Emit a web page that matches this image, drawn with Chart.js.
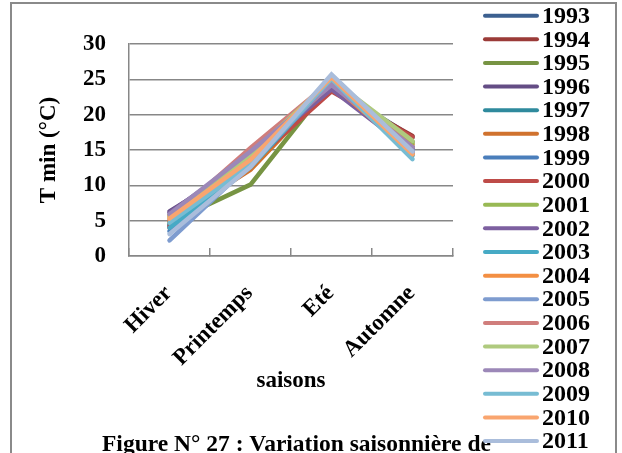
<!DOCTYPE html>
<html>
<head>
<meta charset="utf-8">
<script src="https://cdn.jsdelivr.net/npm/chart.js@4/dist/chart.umd.min.js"></script>
<style>
  html, body { margin: 0; padding: 0; background: #fff; }
  #wrap { position: relative; width: 622px; height: 453px; }
</style>
</head>
<body>
<div id="wrap"><canvas id="c" width="622" height="453"></canvas></div>
<script>
// Seasons on the x axis, years as series
const seasons = ['Hiver', 'Printemps', 'Eté', 'Automne'];
const years = ['1993', '1994', '1995', '1996', '1997', '1998', '1999', '2000', '2001', '2002',
               '2003', '2004', '2005', '2006', '2007', '2008', '2009', '2010', '2011'];
const yTicks = [0, 5, 10, 15, 20, 25, 30];

// Seasonal minimum temperature (°C) per year: Hiver, Printemps, Eté, Automne
const t1993 = [4.5, 12.8, 24.0, 16.8];
const t1994 = [4.0, 13.2, 23.4, 17.0];
const t1995 = [4.7, 10.1, 24.6, 16.2];
const t1996 = [6.3, 13.4, 23.7, 15.2];
const t1997 = [4.3, 12.4, 24.5, 15.5];
const t1998 = [4.9, 12.2, 24.2, 15.8];
const t1999 = [3.5, 12.9, 24.7, 14.5];
const t2000 = [4.2, 13.0, 23.3, 16.8];
const t2001 = [5.8, 13.0, 24.9, 16.0];
const t2002 = [6.1, 14.2, 23.6, 14.8];
const t2003 = [4.0, 12.6, 24.9, 14.2];
const t2004 = [5.6, 13.8, 24.4, 14.4];
const t2005 = [2.2, 13.0, 24.7, 15.0];
const t2006 = [5.2, 15.3, 24.8, 15.4];
const t2007 = [5.4, 14.4, 25.0, 16.3];
const t2008 = [5.9, 14.8, 24.2, 15.4];
const t2009 = [4.7, 12.9, 25.1, 13.7];
const t2010 = [5.3, 13.6, 25.3, 14.4];
const t2011 = [3.1, 12.6, 25.7, 14.8];

const seriesValues = [t1993, t1994, t1995, t1996, t1997, t1998, t1999, t2000, t2001, t2002,
                      t2003, t2004, t2005, t2006, t2007, t2008, t2009, t2010, t2011];

const palette = ['#3C6090', '#9B3B38', '#779443', '#644D85', '#2F8A9D', '#D0722E', '#4A7EBB',
                 '#BE4B48', '#98B954', '#7D60A0', '#46AAC5', '#F38F43', '#7E9CCF', '#D07E7C',
                 '#AFCA7E', '#9C88B8', '#77BCD3', '#F9A56F', '#AABDDB'];

const FONT = "'Liberation Serif', 'Times New Roman', serif";
const GRID = '#878787';

// Outer frame around the figure
const framePlugin = {
  id: 'frame',
  beforeDraw(chart) {
    const ctx = chart.ctx;
    ctx.save();
    ctx.fillStyle = '#ffffff';
    ctx.fillRect(0, 0, chart.width, chart.height);
    ctx.strokeStyle = '#8a8a8a';
    ctx.lineWidth = 2;
    ctx.strokeRect(11, 3, 605, 470);
    ctx.restore();
  }
};

// Line-sample legend on the right and the figure caption underneath
const legendPlugin = {
  id: 'lineLegend',
  afterDraw(chart) {
    const ctx = chart.ctx;
    ctx.save();
    // caption
    ctx.fillStyle = '#000';
    ctx.font = 'bold 23.5px ' + FONT;
    ctx.textAlign = 'left';
    ctx.textBaseline = 'alphabetic';
    ctx.fillText('Figure N° 27 : Variation saisonnière de', 102, 451);

    // legend rows
    const x0 = 485, x1 = 537, tx = 542, top = 15.7, step = 23.63;
    ctx.font = 'bold 24px ' + FONT;
    ctx.textBaseline = 'middle';
    chart.data.datasets.forEach((ds, i) => {
      const y = top + i * step;
      ctx.strokeStyle = ds.borderColor;
      ctx.lineWidth = 4;
      ctx.lineCap = 'round';
      ctx.beginPath();
      ctx.moveTo(x0, y);
      ctx.lineTo(x1, y);
      ctx.stroke();
      ctx.fillStyle = '#000';
      ctx.fillText(ds.label, tx, y + 1);
    });
    ctx.restore();
  }
};

const datasets = years.map((yr, i) => ({
  label: yr,
  data: seriesValues[i],
  borderColor: palette[i],
  backgroundColor: palette[i],
  order: years.length - 1 - i
}));

new Chart(document.getElementById('c'), {
  type: 'line',
  data: { labels: seasons, datasets },
  options: {
    responsive: false,
    animation: false,
    devicePixelRatio: 1,
    layout: { padding: { left: 0, right: 169, top: 44, bottom: 0 } },
    plugins: { legend: { display: false }, tooltip: { enabled: false } },
    elements: {
      line: { tension: 0, borderWidth: 4.5, borderCapStyle: 'round', borderJoinStyle: 'miter', fill: false },
      point: { radius: 0, hoverRadius: 0 }
    },
    scales: {
      x: {
        offset: true,
        grid: { offset: true, drawOnChartArea: false, drawTicks: true, tickLength: -8, color: GRID, lineWidth: 1.5 },
        border: { color: GRID, width: 1.5 },
        ticks: {
          autoSkip: false, minRotation: 45, maxRotation: 45, labelOffset: -1, padding: 32,
          color: '#000', font: { family: FONT, size: 23, weight: 'bold' }
        },
        title: {
          display: true, text: 'saisons', color: '#000',
          font: { family: FONT, size: 23, weight: 'bold' }, padding: { top: 0, bottom: 58 }
        },
        afterFit(scale) { scale.height = 197; }
      },
      y: {
        min: yTicks[0],
        max: yTicks[yTicks.length - 1],
        afterBuildTicks(scale) { scale.ticks = yTicks.map(v => ({ value: v })); },
        grid: { color: GRID, lineWidth: 1.5, drawTicks: false },
        border: { color: GRID, width: 1.5 },
        ticks: { padding: 23, color: '#000', font: { family: FONT, size: 23, weight: 'bold' } },
        title: {
          display: true, text: 'T min (°C)', color: '#000',
          font: { family: FONT, size: 23, weight: 'bold' }, padding: { top: 35, bottom: 0 }
        },
        afterFit(scale) { scale.width = 129; }
      }
    }
  },
  plugins: [framePlugin, legendPlugin]
});
</script>
</body>
</html>
